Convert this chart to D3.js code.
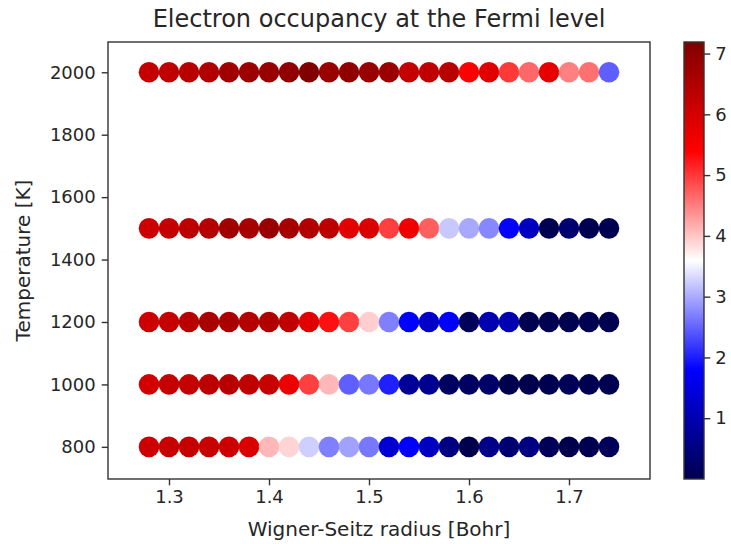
<!DOCTYPE html>
<html>
<head>
<meta charset="utf-8">
<script src="https://cdn.jsdelivr.net/npm/d3@7"></script>
<style>
  html, body { margin: 0; padding: 0; background: #fff; }
  svg { display: block; }
  text { font-family: "DejaVu Sans", sans-serif; fill: #262626; }
</style>
</head>
<body>
<svg id="chart" width="731" height="544"></svg>
<script>
// Wigner-Seitz radii (Bohr) sampled at each temperature
const radii = [1.28, 1.30, 1.32, 1.34, 1.36, 1.38, 1.40, 1.42, 1.44, 1.46, 1.48, 1.50,
               1.52, 1.54, 1.56, 1.58, 1.60, 1.62, 1.64, 1.66, 1.68, 1.70, 1.72, 1.74];
const temperatures = [800, 1000, 1200, 1500, 2000];

// Electron occupancy at the Fermi level, one array per temperature
const occ800  = [6.11, 6.18, 6.22, 6.18, 6.11, 5.90, 4.10, 3.90, 3.26, 2.70, 2.93, 2.64,
                 1.32, 1.80, 1.16, 0.51, 0.00, 0.60, 0.36, 0.51, 0.12, 0.00, 0.03, 0.12];
const occ1000 = [6.00, 6.22, 6.22, 6.34, 6.40, 6.29, 6.18, 5.66, 4.94, 4.10, 2.47, 2.64,
                 2.02, 0.77, 0.68, 0.20, 0.20, 0.28, 0.00, 0.00, 0.03, 0.12, 0.03, 0.03];
const occ1200 = [6.11, 6.22, 6.40, 6.61, 6.61, 6.45, 6.51, 6.29, 5.82, 5.28, 4.94, 3.93,
                 2.70, 1.80, 1.24, 1.75, 0.12, 1.00, 1.00, 0.03, 0.03, 0.03, 0.03, 0.03];
const occ1500 = [6.11, 6.22, 6.34, 6.45, 6.72, 6.65, 6.83, 6.65, 6.51, 6.34, 5.79, 5.90,
                 4.94, 5.61, 4.72, 3.21, 2.98, 2.75, 1.82, 1.16, 0.03, 0.36, 0.03, 0.03];
const occ2000 = [6.22, 6.29, 6.40, 6.51, 6.72, 6.80, 6.83, 6.96, 7.19, 6.83, 6.96, 6.83,
                 6.82, 6.22, 6.29, 6.40, 5.42, 5.82, 5.00, 4.66, 5.72, 4.49, 4.60, 2.47];
const occupancy = [occ800, occ1000, occ1200, occ1500, occ2000];

const xTicks = [1.3, 1.4, 1.5, 1.6, 1.7];
const yTicks = [800, 1000, 1200, 1400, 1600, 1800, 2000];
const cTicks = [1, 2, 3, 4, 5, 6, 7];
const occMin = 0.0, occMax = 7.19;

// matplotlib "seismic" colour map anchors
const seismic = ["rgb(0,0,77)", "rgb(0,0,255)", "rgb(255,255,255)", "rgb(255,0,0)", "rgb(128,0,0)"];

const svg = d3.select("#chart");
const m = { left: 108, right: 650, top: 42, bottom: 479 };

const x = d3.scaleLinear().domain([1.239, 1.781]).range([m.left, m.right]);
const y = d3.scaleLinear().domain([697, 2097]).range([m.bottom, m.top]);
const color = d3.scaleLinear()
  .domain(d3.range(5).map(i => occMin + (occMax - occMin) * i / 4))
  .range(seismic)
  .interpolate(d3.interpolateRgb)
  .clamp(true);

const points = [];
temperatures.forEach((t, i) => radii.forEach((r, j) => points.push({ r, t, v: occupancy[i][j] })));

svg.append("g")
  .selectAll("circle")
  .data(points)
  .join("circle")
  .attr("cx", d => x(d.r))
  .attr("cy", d => y(d.t))
  .attr("r", 10.3)
  .attr("fill", d => color(d.v));

// frame
svg.append("rect")
  .attr("x", m.left).attr("y", m.top)
  .attr("width", m.right - m.left).attr("height", m.bottom - m.top)
  .attr("fill", "none").attr("stroke", "#333").attr("stroke-width", 1.4);

const tickFont = "18px";
const labelFont = "20px";

const xAxis = svg.append("g")
  .attr("transform", `translate(0,${m.bottom})`)
  .call(d3.axisBottom(x).tickValues(xTicks).tickFormat(d3.format(".1f")).tickSize(6.3).tickPadding(5));
const yAxis = svg.append("g")
  .attr("transform", `translate(${m.left},0)`)
  .call(d3.axisLeft(y).tickValues(yTicks).tickFormat(d3.format("d")).tickSize(6.3).tickPadding(6));
[xAxis, yAxis].forEach(g => {
  g.select(".domain").remove();
  g.selectAll(".tick line").attr("stroke", "#333").attr("stroke-width", 1.4);
  g.selectAll(".tick text").style("font-size", tickFont).style("font-family", "DejaVu Sans").attr("fill", "#262626");
});

svg.append("text")
  .attr("x", (m.left + m.right) / 2).attr("y", 536)
  .attr("text-anchor", "middle").style("font-size", labelFont)
  .text("Wigner-Seitz radius [Bohr]");

svg.append("text")
  .attr("transform", `translate(30,${(m.top + m.bottom) / 2}) rotate(-90)`)
  .attr("text-anchor", "middle").style("font-size", labelFont)
  .text("Temperature [K]");

svg.append("text")
  .attr("x", (m.left + m.right) / 2).attr("y", 27)
  .attr("text-anchor", "middle").style("font-size", "24px")
  .text("Electron occupancy at the Fermi level");

// colour bar
const cb = { left: 684, right: 704 };
const cy = d3.scaleLinear().domain([occMin, occMax]).range([m.bottom, m.top]);
const grad = svg.append("defs").append("linearGradient")
  .attr("id", "seismicGrad").attr("x1", 0).attr("y1", 1).attr("x2", 0).attr("y2", 0);
seismic.forEach((c, i) => grad.append("stop").attr("offset", i / 4).attr("stop-color", c));

svg.append("rect")
  .attr("x", cb.left).attr("y", m.top)
  .attr("width", cb.right - cb.left).attr("height", m.bottom - m.top)
  .attr("fill", "url(#seismicGrad)")
  .attr("stroke", "#333").attr("stroke-width", 1.4);

const cAxis = svg.append("g")
  .attr("transform", `translate(${cb.right},0)`)
  .call(d3.axisRight(cy).tickValues(cTicks).tickFormat(d3.format("d")).tickSize(6.3).tickPadding(5));
cAxis.select(".domain").remove();
cAxis.selectAll(".tick line").attr("stroke", "#333").attr("stroke-width", 1.4);
cAxis.selectAll(".tick text").style("font-size", tickFont).style("font-family", "DejaVu Sans").attr("fill", "#262626");
</script>
</body>
</html>
